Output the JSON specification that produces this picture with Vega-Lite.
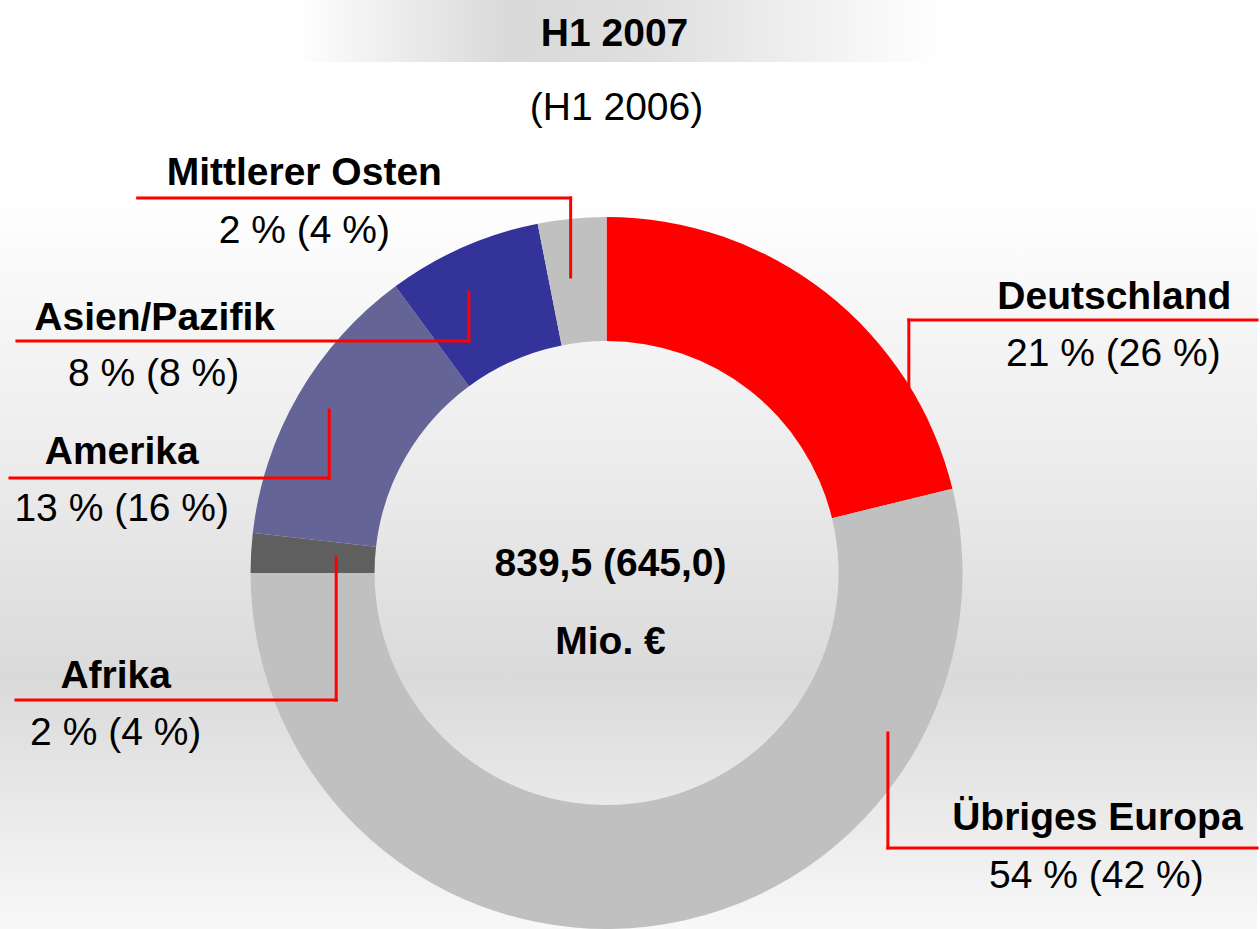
{
  "$schema": "https://vega.github.io/schema/vega-lite/v6.json",
  "width": 1260,
  "height": 929,
  "padding": 0,
  "autosize": {"type": "fit", "contains": "padding"},
  "background": "#ffffff",
  "config": {"view": {"stroke": null}, "axis": {"disable": true}},
  "datasets": {
    "regions": [
      {"idx": 1, "region": "Deutschland", "share": 21.2, "label2007": 21, "label2006": 26},
      {"idx": 2, "region": "Übriges Europa", "share": 53.8, "label2007": 54, "label2006": 42},
      {"idx": 3, "region": "Afrika", "share": 1.8, "label2007": 2, "label2006": 4},
      {"idx": 4, "region": "Amerika", "share": 13.1, "label2007": 13, "label2006": 16},
      {"idx": 5, "region": "Asien/Pazifik", "share": 7.0, "label2007": 8, "label2006": 8},
      {"idx": 6, "region": "Mittlerer Osten", "share": 3.1, "label2007": 2, "label2006": 4}
    ],
    "leaders": [
      {"region": "Mittlerer Osten", "xa": 138, "ya": 198, "xb": 572, "yb": 198},
      {"region": "Mittlerer Osten", "xa": 572, "ya": 198, "xb": 572, "yb": 277},
      {"region": "Asien/Pazifik", "xa": 17, "ya": 341, "xb": 470, "yb": 341},
      {"region": "Asien/Pazifik", "xa": 470, "ya": 292, "xb": 470, "yb": 341},
      {"region": "Amerika", "xa": 10, "ya": 478, "xb": 330, "yb": 478},
      {"region": "Amerika", "xa": 330, "ya": 410, "xb": 330, "yb": 478},
      {"region": "Afrika", "xa": 16, "ya": 700, "xb": 337, "yb": 700},
      {"region": "Afrika", "xa": 337, "ya": 558, "xb": 337, "yb": 700},
      {"region": "Deutschland", "xa": 911, "ya": 320, "xb": 1260, "yb": 320},
      {"region": "Deutschland", "xa": 911, "ya": 320, "xb": 911, "yb": 397},
      {"region": "Übriges Europa", "xa": 890, "ya": 848, "xb": 1260, "yb": 848},
      {"region": "Übriges Europa", "xa": 890, "ya": 733, "xb": 890, "yb": 848}
    ],
    "boldText": [
      {"label": "H1 2007", "lx": 616, "ly": 46},
      {"label": "Mittlerer Osten", "lx": 305, "ly": 185},
      {"label": "Deutschland", "lx": 1117, "ly": 309},
      {"label": "Asien/Pazifik", "lx": 155, "ly": 330},
      {"label": "Amerika", "lx": 122, "ly": 464},
      {"label": "Afrika", "lx": 116, "ly": 688},
      {"label": "Übriges Europa", "lx": 1100, "ly": 830},
      {"label": "839,5 (645,0)", "lx": 612, "ly": 576},
      {"label": "Mio. €", "lx": 612, "ly": 654}
    ],
    "plainText": [
      {"label": "(H1 2006)", "lx": 618, "ly": 120},
      {"label": "2 % (4 %)", "lx": 305, "ly": 243},
      {"label": "21 % (26 %)", "lx": 1116, "ly": 366},
      {"label": "8 % (8 %)", "lx": 154, "ly": 386},
      {"label": "13 % (16 %)", "lx": 122, "ly": 521},
      {"label": "2 % (4 %)", "lx": 116, "ly": 745},
      {"label": "54 % (42 %)", "lx": 1099, "ly": 888}
    ]
  },
  "layer": [
    {
      "data": {"values": [{}]},
      "mark": {
        "type": "rect",
        "color": {
          "gradient": "linear", "x1": 0, "y1": 0, "x2": 0, "y2": 1,
          "stops": [
            {"offset": 0, "color": "#ffffff"},
            {"offset": 0.22, "color": "#fefefe"},
            {"offset": 0.5, "color": "#ececec"},
            {"offset": 0.73, "color": "#dadada"},
            {"offset": 1, "color": "#f8f8f8"}
          ]
        }
      },
      "encoding": {
        "x": {"datum": 0, "type": "quantitative", "scale": {"domain": [0, 1260], "nice": false, "zero": false}},
        "x2": {"datum": 1260},
        "y": {"datum": 0, "type": "quantitative", "scale": {"domain": [929, 0], "nice": false, "zero": false}},
        "y2": {"datum": 929}
      }
    },
    {
      "data": {"values": [{}]},
      "mark": {
        "type": "rect",
        "color": {
          "gradient": "linear", "x1": 0, "y1": 0, "x2": 1, "y2": 0,
          "stops": [
            {"offset": 0, "color": "#ffffff"},
            {"offset": 0.33, "color": "#d9d9d9"},
            {"offset": 0.55, "color": "#dfdfdf"},
            {"offset": 1, "color": "#ffffff"}
          ]
        }
      },
      "encoding": {
        "x": {"datum": 295, "type": "quantitative"},
        "x2": {"datum": 945},
        "y": {"datum": 0, "type": "quantitative"},
        "y2": {"datum": 62}
      }
    },
    {
      "data": {"name": "regions"},
      "mark": {"type": "arc", "innerRadius": 232, "outerRadius": 356, "strokeWidth": 0},
      "encoding": {
        "x": {"datum": 608, "type": "quantitative"},
        "y": {"datum": 573, "type": "quantitative"},
        "theta": {"field": "share", "type": "quantitative", "stack": true},
        "order": {"field": "idx", "type": "quantitative", "sort": "ascending"},
        "color": {
          "field": "region",
          "type": "nominal",
          "legend": null,
          "scale": {
            "domain": ["Deutschland", "Übriges Europa", "Afrika", "Amerika", "Asien/Pazifik", "Mittlerer Osten"],
            "range": ["#ff0000", "#c0c0c0", "#5f5f5f", "#646496", "#333399", "#c0c0c0"]
          }
        }
      }
    },
    {
      "data": {"name": "leaders"},
      "mark": {"type": "rule", "color": "#ff0000", "strokeWidth": 3, "strokeCap": "square"},
      "encoding": {
        "x": {"field": "xa", "type": "quantitative"},
        "y": {"field": "ya", "type": "quantitative"},
        "x2": {"field": "xb"},
        "y2": {"field": "yb"}
      }
    },
    {
      "data": {"name": "boldText"},
      "mark": {"type": "text", "font": "Liberation Sans", "fontWeight": "bold", "fontSize": 39, "align": "center", "baseline": "alphabetic", "color": "#000000"},
      "encoding": {
        "x": {"field": "lx", "type": "quantitative"},
        "y": {"field": "ly", "type": "quantitative"},
        "text": {"field": "label"}
      }
    },
    {
      "data": {"name": "plainText"},
      "mark": {"type": "text", "font": "Liberation Sans", "fontWeight": "normal", "fontSize": 39, "align": "center", "baseline": "alphabetic", "color": "#000000"},
      "encoding": {
        "x": {"field": "lx", "type": "quantitative"},
        "y": {"field": "ly", "type": "quantitative"},
        "text": {"field": "label"}
      }
    }
  ]
}
